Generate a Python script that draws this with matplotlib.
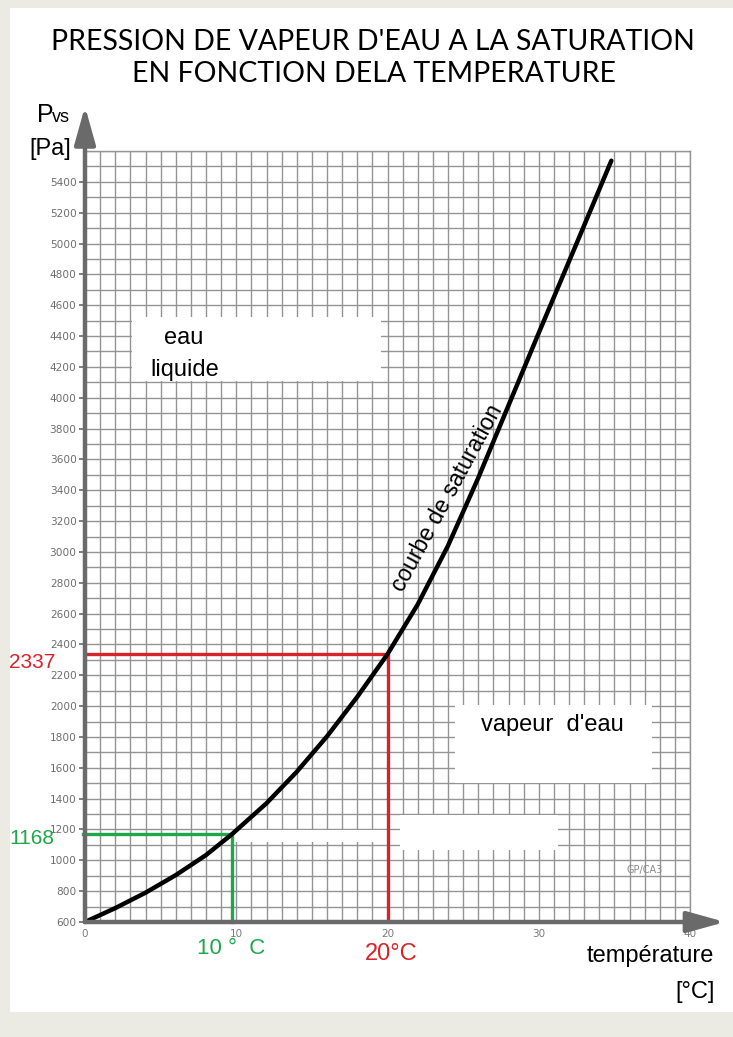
"""
Pression de vapeur d'eau a la saturation en fonction de la temperature.
Papier millimetre scanne, recree avec matplotlib.
"""

import numpy as np
import matplotlib
matplotlib.use("Agg")
import matplotlib.pyplot as plt
from matplotlib.patches import Rectangle

# ---- data -------------------------------------------------------------------
temp_c = [0, 2.0, 4.0, 6.0, 8.0, 9.7, 12.0, 14.0, 16.0, 18.0, 20.0, 22.0,
          24.0, 26.0, 28.0, 30.0, 32.5, 34.8]
pvs_pa = [600, 690, 790, 904, 1034, 1168, 1370, 1574, 1804, 2060, 2337, 2660,
          3040, 3480, 3950, 4420, 5000, 5537]

ref_red_t, ref_red_p = 20.0, 2337      # 20 degC -> 2337 Pa
ref_green_t, ref_green_p = 9.7, 1168   # 10 degC -> 1168 Pa

x_ticks = [0, 10, 20, 30, 40]
y_ticks = list(range(600, 5600, 200))

# ---- style -------------------------------------------------------------------
W, H = 733, 1037
SANS = ["Liberation Sans", "DejaVu Sans"]
GRID = "#949494"
AXIS = "#6a6a6a"
RED = "#d8232a"
GREEN = "#1ea84a"
BEIGE = "#ecebe3"


def fx(px):
    return px / W


def fy(py):
    return 1 - py / H


fig = plt.figure(figsize=(W / 100, H / 100), dpi=100)
fig.patch.set_facecolor(BEIGE)
# white sheet on the beige background
fig.patches.append(Rectangle((fx(10), fy(1012)), fx(733) - fx(10), fy(8) - fy(1012),
                             transform=fig.transFigure, facecolor="white",
                             edgecolor="none", zorder=-10))

ax = fig.add_axes([fx(85), fy(922), fx(690) - fx(85), fy(151) - fy(922)])
ax.set_zorder(1)
ax.set_facecolor("white")
ax.set_xlim(0, 40)
ax.set_ylim(600, 5600)

# millimetre grid: 1 degC x 100 Pa
ax.set_xticks(np.arange(0, 41, 1), minor=True)
ax.set_yticks(np.arange(600, 5601, 100), minor=True)
ax.set_xticks(x_ticks)
ax.set_xticklabels([str(t) for t in x_ticks])
ax.set_yticks(y_ticks)
ax.set_yticklabels([str(v) for v in y_ticks])
ax.grid(True, which="both", color=GRID, lw=1.0)
ax.set_axisbelow(True)
ax.tick_params(axis="x", which="both", length=0, pad=5, labelsize=7.5, labelcolor="#7a7a7a")
ax.tick_params(axis="y", which="minor", length=0)
ax.tick_params(axis="y", which="major", length=4, width=1.2, color=AXIS, pad=2,
               labelsize=7.6, labelcolor="#6e6e6e")

for s in ("top", "right"):
    ax.spines[s].set_color(GRID)
    ax.spines[s].set_linewidth(1.0)
for s in ("left", "bottom"):
    ax.spines[s].set_visible(False)

# thick grey axes with arrow heads
arrow = dict(arrowstyle="-|>,head_length=1.15,head_width=0.32", color=AXIS,
             lw=3.2, mutation_scale=20, shrinkA=0, shrinkB=0)
ax.annotate("", xy=(0, 1.058), xytext=(0, 0), xycoords="axes fraction",
            arrowprops=arrow, annotation_clip=False, zorder=5)
ax.annotate("", xy=(1.058, 0), xytext=(0, 0), xycoords="axes fraction",
            arrowprops=arrow, annotation_clip=False, zorder=5)

# white patches hiding the grid (label areas)
masks = [
    (3.1, 4107, 16.5, 415),    # eau liquide
    (24.46, 1502, 13.04, 505), # vapeur d'eau
    (9.8, 1119, 10.2, 78),
    (20.8, 1067, 10.5, 227),
]
for x0, y0, w, h in masks:
    ax.add_patch(Rectangle((x0, y0), w, h, facecolor="white", edgecolor="none", zorder=1))

# saturation curve
ax.plot(temp_c, pvs_pa, color="black", lw=3.2, solid_capstyle="round",
        solid_joinstyle="round", zorder=4, clip_on=False)

# reading lines
ax.plot([0, ref_red_t, ref_red_t], [ref_red_p, ref_red_p, 600], color=RED, lw=2.4, zorder=3)
ax.plot([-0.1, ref_green_t, ref_green_t], [ref_green_p, ref_green_p, 600], color=GREEN,
        lw=2.4, zorder=3, clip_on=False)

# texts in the plot
ax.text(6.55, 4390, "eau", fontsize=17, family=SANS, ha="center", va="center", zorder=2)
ax.text(6.6, 4180, "liquide", fontsize=17, family=SANS, ha="center", va="center", zorder=2)
ax.text(30.9, 1880, "vapeur  d'eau", fontsize=17, family=SANS, ha="center",
        va="center", zorder=2)
ax.text(23.95, 3350, "courbe de saturation", fontsize=16.5, family=SANS, rotation=61.5,
        ha="center", va="center", rotation_mode="anchor", zorder=2)
ax.text(37.0, 940, "GP/CA3", fontsize=7, color="#8a8a8a", ha="center", va="center", zorder=2)

# labels outside the grid
fig.text(fx(9), fy(662), "2337", color=RED, fontsize=15, family=SANS, va="center")
fig.text(fx(9), fy(838), "1168", color=GREEN, fontsize=15, family=SANS, va="center")
fig.text(fx(197), fy(949), "10 °  C", color=GREEN, fontsize=16, family=SANS, va="center")
fig.text(fx(365), fy(954), "20°C", color=RED, fontsize=17, family=SANS, va="center")
fig.text(fx(714), fy(962), "température", fontsize=17, family=SANS, ha="right",
         va="baseline")
fig.text(fx(715), fy(992), "[°C]", fontsize=17, family=SANS, ha="right", va="center")
fig.text(fx(37), fy(122), "P", fontsize=18, family=SANS, va="baseline")
fig.text(fx(52), fy(122), "vs", fontsize=13, family=SANS, va="baseline")
fig.text(fx(29), fy(149), "[Pa]", fontsize=17, family=SANS, va="center")

# title
TITLE = ["Lato", "DejaVu Sans"]
fig.text(fx(373), fy(42), "PRESSION DE VAPEUR D'EAU A LA SATURATION", fontsize=20.5,
         family=TITLE, ha="center", va="center")
fig.text(fx(374), fy(74), "EN FONCTION DELA TEMPERATURE", fontsize=20.5,
         family=TITLE, ha="center", va="center")

fig.savefig("out.png", dpi=100, facecolor=fig.get_facecolor())
